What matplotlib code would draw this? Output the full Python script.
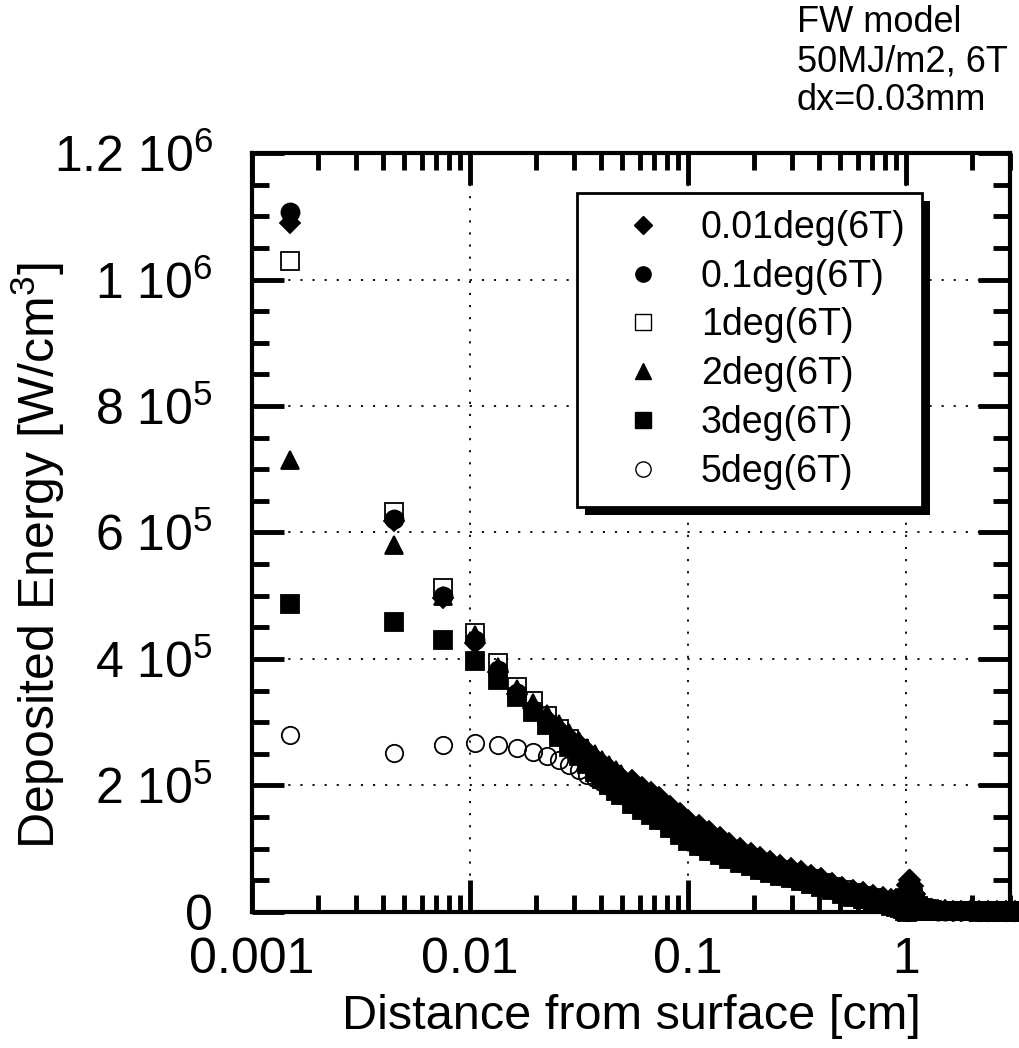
import numpy as np
import matplotlib
matplotlib.use("Agg")
import matplotlib.pyplot as plt
from matplotlib.lines import Line2D
from matplotlib.patches import Rectangle
from matplotlib.transforms import IdentityTransform
from matplotlib.ticker import MultipleLocator, NullFormatter, LogLocator

plt.rcParams['font.family'] = ['Liberation Sans', 'DejaVu Sans']
plt.rcParams['mathtext.default'] = 'regular'

# depth grid (cm), first points are resolved one by one
head_depth = [0.0015, 0.0045, 0.0075, 0.0105, 0.0135, 0.0165, 0.0195, 0.0225, 0.0255,
              0.0285, 0.0315, 0.0345, 0.0375, 0.0405, 0.0435, 0.0465, 0.0495]
# deeper part, where the markers merge into a band
tail_depth = [0.0555, 0.0615, 0.0675, 0.0735, 0.0825, 0.0915, 0.1005, 0.1125, 0.1245,
              0.1395, 0.1545, 0.1725, 0.1935, 0.2145, 0.2385, 0.2655, 0.2955, 0.3285,
              0.3675, 0.4095, 0.4575, 0.5085, 0.5685, 0.6345, 0.7065, 0.7845, 0.8505,
              0.9045, 0.9405, 0.9705, 0.9945, 1.0125, 1.0305, 1.0485, 1.0725, 1.1025,
              1.1385, 1.1865, 1.2465, 1.3185, 1.4085, 1.5165, 1.6425, 1.7925, 1.9605,
              2.1525, 2.3685, 2.6085, 2.8725, 3.1605, 3.3825]

# deposited energy, units of 1e6 W/cm3
e_001deg_head = [1.090, 0.618, 0.496, 0.425, 0.380, 0.345, 0.322, 0.305, 0.290,
                 0.277, 0.265, 0.254, 0.244, 0.235, 0.227, 0.220, 0.213]
e_01deg_head = [1.107, 0.622, 0.499, 0.430, 0.383, 0.346, 0.320, 0.298, 0.279,
                0.264, 0.250, 0.237, 0.226, 0.216, 0.207, 0.199, 0.194]
e_1deg_head = [1.029, 0.632, 0.512, 0.441, 0.394, 0.356, 0.333, 0.310, 0.290,
               0.273, 0.258, 0.244, 0.232, 0.221, 0.211, 0.202, 0.195]
e_2deg_head = [0.715, 0.580, 0.500, 0.438, 0.387, 0.352, 0.330, 0.313, 0.297,
               0.283, 0.270, 0.259, 0.249, 0.240, 0.232, 0.225, 0.218]
e_3deg_head = [0.487, 0.458, 0.430, 0.397, 0.367, 0.340, 0.316, 0.295, 0.277,
               0.261, 0.247, 0.234, 0.222, 0.211, 0.201, 0.192, 0.185]
e_5deg_head = [0.280, 0.251, 0.264, 0.267, 0.264, 0.259, 0.253, 0.247, 0.240,
               0.232, 0.224, 0.217, 0.212, 0.206, 0.199, 0.192, 0.185]

tail_high = [0.208, 0.198, 0.189, 0.181, 0.168, 0.157, 0.146, 0.137, 0.128,
             0.118, 0.109, 0.101, 0.094, 0.087, 0.081, 0.075, 0.070, 0.065,
             0.059, 0.053, 0.046, 0.040, 0.035, 0.031, 0.027, 0.024, 0.021,
             0.020, 0.019, 0.019, 0.025, 0.042, 0.051, 0.050, 0.041, 0.029,
             0.018, 0.010, 0.006, 0.004, 0.003, 0.003, 0.002, 0.002, 0.002,
             0.002, 0.001, 0.001, 0.001, 0.001, 0.001]
tail_mid = [0.190, 0.180, 0.171, 0.163, 0.151, 0.140, 0.129, 0.121, 0.113,
            0.104, 0.097, 0.090, 0.083, 0.077, 0.071, 0.066, 0.062, 0.057,
            0.052, 0.046, 0.040, 0.035, 0.030, 0.026, 0.022, 0.018, 0.015,
            0.014, 0.012, 0.012, 0.014, 0.022, 0.026, 0.026, 0.022, 0.016,
            0.010, 0.006, 0.004, 0.003, 0.002, 0.002, 0.002, 0.001, 0.001,
            0.001, 0.001, 0.001, 0.001, 0.001, 0.001]
tail_low = [0.171, 0.161, 0.153, 0.145, 0.133, 0.122, 0.112, 0.104, 0.097,
            0.090, 0.084, 0.078, 0.072, 0.067, 0.062, 0.057, 0.053, 0.049,
            0.044, 0.039, 0.034, 0.029, 0.024, 0.020, 0.016, 0.012, 0.009,
            0.008, 0.006, 0.004, 0.002, 0.000, 0.001, 0.002, 0.002, 0.002,
            0.001, 0.001, 0.001, 0.001, 0.001, 0.001, 0.001, 0.001, 0.001,
            0.000, 0.000, 0.000, 0.000, 0.000, 0.000]

labels = ["0.01deg(6T)", "0.1deg(6T)", "1deg(6T)", "2deg(6T)", "3deg(6T)", "5deg(6T)"]
heads = [e_001deg_head, e_01deg_head, e_1deg_head, e_2deg_head, e_3deg_head, e_5deg_head]
tails = [tail_high, tail_mid, tail_mid, tail_high, tail_low, tail_low]
markers = ['D', 'o', 's', '^', 's', 'o']
filled = [True, True, False, True, True, False]
msizes = [10, 13, 12.5, 12.5, 13, 12.5]

x_ticks = [0.001, 0.01, 0.1, 1]
x_tick_labels = ["0.001", "0.01", "0.1", "1"]
y_ticks = [0, 2e5, 4e5, 6e5, 8e5, 1e6, 1.2e6]
y_tick_labels = ["0", "2 10$^5$", "4 10$^5$", "6 10$^5$", "8 10$^5$", "1 10$^6$", "1.2 10$^6$"]
note_lines = ["FW model", "50MJ/m2, 6T", "dx=0.03mm"]

fig = plt.figure(figsize=(10.2, 10.48), dpi=100)
ax = fig.add_axes([0.2471, 0.1298, 0.7431, 0.7242])

depth = np.array(head_depth + tail_depth)
for lab, h, t, m, f, ms in zip(labels, heads, tails, markers, filled, msizes):
    energy = np.array(h + t) * 1e6
    ax.plot(depth, energy, linestyle='none', marker=m, markersize=ms,
            markerfacecolor='black' if f else 'none', markeredgecolor='black',
            markeredgewidth=1.3, clip_on=False, zorder=3)

ax.set_xscale('log')
ax.set_xlim(0.001, 3)
ax.set_ylim(0, 1.2e6)
ax.set_xticks(x_ticks)
ax.set_xticklabels(x_tick_labels)
ax.xaxis.set_minor_locator(LogLocator(base=10, subs=np.arange(2, 10)))
ax.xaxis.set_minor_formatter(NullFormatter())
ax.set_yticks(y_ticks)
ax.set_yticklabels(y_tick_labels)
ax.yaxis.set_minor_locator(MultipleLocator(5e4))

ax.tick_params(which='both', direction='in', top=True, right=True, width=3.5, color='black')
ax.tick_params(which='major', length=23, labelsize=36)
ax.tick_params(axis='x', which='major', pad=18)
ax.tick_params(axis='y', which='major', pad=28)
ax.tick_params(which='minor', length=12)
for sp in ax.spines.values():
    sp.set_linewidth(3)

ax.grid(True, which='major', color='black', linestyle=(0, (1.2, 5.5)), linewidth=1.3, zorder=1)
ax.set_axisbelow(True)

ax.set_xlabel("Distance from surface [cm]", fontsize=35, labelpad=8)
ax.set_ylabel("Deposited Energy [W/cm$^3$]", fontsize=36)
ax.yaxis.set_label_coords(-0.244, 0.47)

handles = []
for lab, m, f in zip(labels, markers, filled):
    handles.append(Line2D([], [], linestyle='none', marker=m, markersize=11 if m != 'D' else 9,
                          markerfacecolor='black' if f else 'white',
                          markeredgecolor='black', markeredgewidth=1.0, label=lab))
leg = ax.legend(handles=handles, loc='upper left', bbox_to_anchor=(577 / 1020, 1 - 193 / 1048),
                bbox_transform=fig.transFigure, fontsize=27, frameon=True, fancybox=False,
                edgecolor='black', borderaxespad=0, borderpad=0.45, handlelength=2.6,
                handletextpad=0.25, labelspacing=0.34)
leg.get_frame().set_linewidth(2)
leg.get_frame().set_alpha(1)
leg.set_zorder(6)

for i, line in enumerate(note_lines):
    fig.text(797 / 1020, 1 - (23 + 38.5 * i) / 1048, line, fontsize=26, ha='left', va='center')

# black drop shadow behind the legend box
fig.canvas.draw()
bb = leg.get_frame().get_window_extent()
shadow = Rectangle((bb.x0 + 8, bb.y0 - 8), bb.width, bb.height, transform=IdentityTransform(),
                   facecolor='black', edgecolor='none', zorder=5.5, clip_on=False)
ax.add_artist(shadow)

fig.savefig("out.png", dpi=100, facecolor='white')
